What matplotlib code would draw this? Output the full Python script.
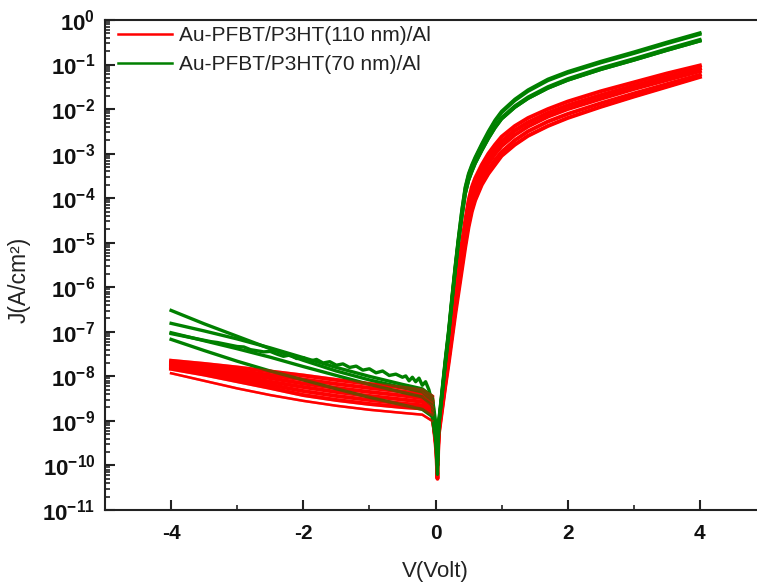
import numpy as np
import matplotlib
matplotlib.use("Agg")
import matplotlib.pyplot as plt
from matplotlib.ticker import MultipleLocator, LogLocator, NullFormatter, FuncFormatter

plt.rcParams['font.family'] = ['Liberation Sans', 'DejaVu Sans']
plt.rcParams['mathtext.fontset'] = 'custom'
plt.rcParams['mathtext.rm'] = 'Liberation Sans'
plt.rcParams['mathtext.bf'] = 'Liberation Sans:bold'
plt.rcParams['axes.unicode_minus'] = False

# ---------------- data (log10 of J in A/cm^2) ----------------
V_rev = [-4.0, -3.5, -3.0, -2.5, -2.0, -1.5, -1.0, -0.5, -0.2, -0.05]
V_dip = [0.0, 0.03]
V_fwd = [0.05, 0.1, 0.15, 0.2, 0.25, 0.3, 0.35, 0.4, 0.45, 0.5, 0.55, 0.6,
         0.7, 0.8, 0.9, 1.0, 1.2, 1.4, 1.7, 2.0, 2.5, 3.0, 3.5, 4.0]

# 110 nm (red): reverse branch
red_rev_1 = [-7.65, -7.72, -7.80, -7.89, -7.98, -8.08, -8.17, -8.25, -8.31, -8.45]
red_rev_2 = [-7.69, -7.78, -7.87, -7.97, -8.07, -8.17, -8.26, -8.34, -8.40, -8.55]
red_rev_3 = [-7.72, -7.82, -7.93, -8.04, -8.16, -8.26, -8.35, -8.43, -8.49, -8.62]
red_rev_4 = [-7.76, -7.87, -7.99, -8.12, -8.24, -8.35, -8.44, -8.52, -8.57, -8.70]
red_rev_5 = [-7.80, -7.92, -8.05, -8.19, -8.33, -8.44, -8.53, -8.61, -8.65, -8.78]
red_rev_6 = [-7.83, -7.96, -8.11, -8.26, -8.42, -8.53, -8.62, -8.69, -8.72, -8.85]
red_rev_7 = [-7.93, -8.10, -8.27, -8.42, -8.55, -8.66, -8.75, -8.82, -8.86, -9.00]
red_dip_1 = [-9.3, -10.3]
red_dip_2 = [-9.4, -9.9]
red_dip_3 = [-9.3, -9.6]
red_dip_4 = [-9.4, -9.8]
red_dip_5 = [-9.5, -10.0]
red_dip_6 = [-9.4, -9.7]
red_dip_7 = [-9.5, -10.1]
# 110 nm (red): forward branch
red_fwd_1 = [-9.10, -8.50, -7.90, -7.30, -6.70, -6.10, -5.55, -5.00, -4.50, -4.05, -3.75, -3.55,
             -3.25, -3.00, -2.80, -2.62, -2.38, -2.20, -2.00, -1.83, -1.60, -1.40, -1.20, -1.02]
red_fwd_2 = [-9.15, -8.55, -7.98, -7.40, -6.80, -6.20, -5.68, -5.15, -4.65, -4.20, -3.88, -3.67,
             -3.37, -3.12, -2.91, -2.73, -2.48, -2.30, -2.09, -1.92, -1.69, -1.48, -1.28, -1.09]
red_fwd_3 = [-9.20, -8.60, -8.05, -7.50, -6.90, -6.32, -5.80, -5.28, -4.78, -4.33, -4.00, -3.78,
             -3.47, -3.22, -3.01, -2.83, -2.58, -2.39, -2.17, -2.00, -1.77, -1.55, -1.35, -1.15]
red_fwd_4 = [-9.25, -8.70, -8.15, -7.60, -7.05, -6.48, -5.95, -5.45, -4.95, -4.50, -4.16, -3.92,
             -3.60, -3.35, -3.14, -2.96, -2.70, -2.50, -2.28, -2.11, -1.87, -1.65, -1.44, -1.23]
red_fwd_5 = [-9.30, -8.75, -8.20, -7.70, -7.15, -6.60, -6.10, -5.60, -5.10, -4.65, -4.30, -4.05,
             -3.70, -3.45, -3.25, -3.05, -2.80, -2.60, -2.38, -2.20, -1.95, -1.72, -1.50, -1.28]

# 70 nm (green)
green_rev_A = [-6.52, -6.82, -7.10, -7.38, -7.64, -7.88, -8.08, -8.25, -8.35, -8.55]
green_rev_B = [-6.81, -6.98, -7.16, -7.36, -7.58, -7.80, -8.00, -8.18, -8.28, -8.45]
green_rev_C = [-7.02, -7.20, -7.38, -7.57, -7.78, -7.98, -8.18, -8.36, -8.46, -8.65]
green_rev_D = [-7.17, -7.42, -7.66, -7.88, -8.08, -8.28, -8.47, -8.64, -8.74, -8.90]
green_dip_A = [-9.2, -9.9]
green_dip_B = [-9.0, -9.6]
green_dip_C = [-9.3, -10.2]
green_dip_D = [-9.4, -9.8]
V_noisy = [-4.0, -3.8, -3.6, -3.4, -3.3, -3.2, -3.0, -2.9, -2.8, -2.6, -2.5, -2.4, -2.3, -2.2,
           -2.1, -2.0, -1.9, -1.8, -1.7, -1.6, -1.5, -1.4, -1.3, -1.2, -1.1, -1.0, -0.9, -0.8,
           -0.7, -0.6, -0.5, -0.45, -0.4, -0.35, -0.3, -0.25, -0.2, -0.15, -0.1, -0.05]
green_rev_N = [-7.04, -7.10, -7.16, -7.22, -7.24, -7.27, -7.33, -7.34, -7.40, -7.45, -7.44, -7.50,
               -7.55, -7.52, -7.60, -7.58, -7.66, -7.62, -7.70, -7.67, -7.75, -7.72, -7.80, -7.77,
               -7.86, -7.83, -7.92, -7.88, -7.98, -7.95, -8.02, -7.99, -8.10, -8.02, -8.12, -8.04,
               -8.20, -8.12, -8.30, -8.60]
green_dip_N = [-9.2, -10.0]
green_fwd_top = [-9.00, -8.30, -7.60, -6.95, -6.20, -5.50, -4.85, -4.25, -3.75, -3.45, -3.25, -3.08,
                 -2.78, -2.50, -2.25, -2.05, -1.78, -1.57, -1.33, -1.16, -0.93, -0.72, -0.50, -0.29]
green_fwd_top2 = [-9.02, -8.33, -7.63, -6.98, -6.23, -5.53, -4.88, -4.28, -3.78, -3.48, -3.28, -3.11,
                  -2.81, -2.53, -2.28, -2.08, -1.81, -1.60, -1.36, -1.19, -0.96, -0.75, -0.53, -0.32]
green_fwd_low = [-9.10, -8.40, -7.70, -7.05, -6.30, -5.60, -4.95, -4.40, -3.90, -3.60, -3.40, -3.22,
                 -2.93, -2.66, -2.42, -2.22, -1.96, -1.76, -1.53, -1.35, -1.11, -0.90, -0.68, -0.47]
green_fwd_low2 = [-9.08, -8.37, -7.67, -7.02, -6.27, -5.57, -4.92, -4.37, -3.87, -3.57, -3.37, -3.19,
                  -2.90, -2.63, -2.39, -2.19, -1.93, -1.73, -1.50, -1.32, -1.08, -0.87, -0.65, -0.44]

label_red = 'Au-PFBT/P3HT(110 nm)/Al'
label_green = 'Au-PFBT/P3HT(70 nm)/Al'
red = '#ff0000'
green = '#008000'

# ---------------- figure ----------------
fig = plt.figure(figsize=(7.57, 5.87), dpi=100)
ax = fig.add_axes([105/757, 77/587, 661/757, 490/587])

def curve(vrev, rev, dip, fwd):
    v = np.array(list(vrev) + V_dip + V_fwd)
    lj = np.array(list(rev) + list(dip) + list(fwd))
    return v, 10.0 ** lj

red_sets = [(red_rev_1, red_dip_1, red_fwd_1, 2.8), (red_rev_2, red_dip_2, red_fwd_2, 2.8),
            (red_rev_3, red_dip_3, red_fwd_2, 2.8), (red_rev_4, red_dip_4, red_fwd_3, 2.8),
            (red_rev_5, red_dip_5, red_fwd_4, 2.8), (red_rev_6, red_dip_6, red_fwd_5, 2.8),
            (red_rev_7, red_dip_7, red_fwd_5, 1.8)]
red_curves = []
for i, (r, d, f, lw) in enumerate(red_sets):
    v, j = curve(V_rev, r, d, f)
    red_curves.append((v, j, lw))
    ax.plot(v, j, color=red, lw=lw, label=label_red if i == 0 else None, zorder=2)

green_sets = [(V_rev, green_rev_A, green_dip_A, green_fwd_top),
              (V_rev, green_rev_B, green_dip_B, green_fwd_low),
              (V_rev, green_rev_C, green_dip_C, green_fwd_low2),
              (V_rev, green_rev_D, green_dip_D, green_fwd_low),
              (V_noisy, green_rev_N, green_dip_N, green_fwd_top2)]
for i, (vr, r, d, f) in enumerate(green_sets):
    v, j = curve(vr, r, d, f)
    ax.plot(v, j, color=green, lw=2.4, label=label_green if i == 0 else None, zorder=3)

# translucent red over the reverse branch (brownish where traces overlap)
for v, j, lw in red_curves:
    m = v <= -0.05
    ax.plot(v[m], j[m], color=red, lw=lw, alpha=0.45, zorder=4)

ax.set_yscale('log')
ax.set_xlim(-5, 5)
ax.set_ylim(1e-11, 1)

ax.xaxis.set_major_locator(MultipleLocator(2))
ax.xaxis.set_minor_locator(MultipleLocator(1))
ax.yaxis.set_major_locator(LogLocator(base=10, numticks=20))
ax.yaxis.set_minor_locator(LogLocator(base=10, subs=np.arange(2, 10), numticks=20))
ax.yaxis.set_minor_formatter(NullFormatter())
ax.yaxis.set_major_formatter(FuncFormatter(
    lambda y, pos: r'$\mathbf{10^{%d}}$' % int(round(np.log10(y)))))

ax.tick_params(axis='both', which='major', direction='in', length=7, width=1.5,
               colors='#222222', labelcolor='#111111')
ax.tick_params(axis='y', which='major', labelsize=16, pad=7)
ax.tick_params(axis='x', which='major', labelsize=15, pad=10)
ax.tick_params(axis='both', which='minor', direction='in', length=3.5, width=1.2,
               colors='#222222')
ax.tick_params(top=False, right=False, which='both')
for lab in ax.get_xticklabels():
    lab.set_fontweight('bold')

for s in ax.spines.values():
    s.set_linewidth(1.5)
    s.set_color('#222222')

ax.set_xlabel('V(Volt)', fontsize=16, labelpad=13, color='#222222')
ax.set_ylabel('J(A/cm²)', fontsize=16.5, color='#222222')
ax.yaxis.set_label_coords(-0.113, 0.47)

leg = ax.legend(loc='upper left', bbox_to_anchor=(13/661, 1 - 6/490), frameon=False,
                fontsize=15, handlelength=2.6, handletextpad=0.35, labelspacing=0.5,
                borderpad=0, borderaxespad=0)
for t in leg.get_texts():
    t.set_color('#222222')
for h in leg.get_lines():
    h.set_linewidth(1.8)

fig.savefig('out.png', dpi=100)
